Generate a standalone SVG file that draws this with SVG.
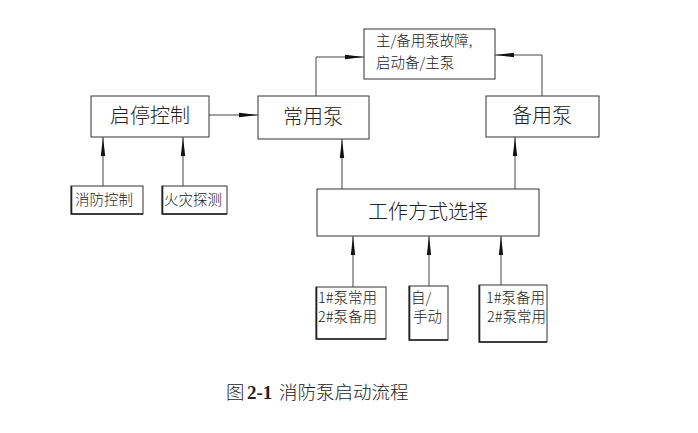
<svg xmlns="http://www.w3.org/2000/svg" width="698" height="433" viewBox="0 0 698 433">
<style>
.box{fill:#fff;stroke:#333;stroke-width:1}
.sh{stroke:#222;stroke-width:1.6;fill:none}
.ln{stroke:#444;stroke-width:1;fill:none}
.t{font-family:"Noto Sans CJK SC","Liberation Sans",sans-serif;fill:#222;font-weight:300}
.big{font-size:20px}
.sm{font-size:14.5px}
</style>
<defs>
<marker id="ah" markerUnits="userSpaceOnUse" viewBox="-19 -3 19 6" refX="0" refY="0" markerWidth="19" markerHeight="6" orient="auto">
<path d="M-19,-2.2 L0,0 L-19,2.2 Z" fill="#111"/>
</marker>
</defs>
<rect width="698" height="433" fill="#fff"/>
<g id="connectors">
<path class="ln" d="M209,115 H258" marker-end="url(#ah)"/>
<path class="ln" d="M316,96 V57 H364" marker-end="url(#ah)"/>
<path class="ln" d="M542,96 V55 H495" marker-end="url(#ah)"/>
<path class="ln" d="M103,186 V137" marker-end="url(#ah)"/>
<path class="ln" d="M183,186 V137" marker-end="url(#ah)"/>
<path class="ln" d="M342,189 V139" marker-end="url(#ah)"/>
<path class="ln" d="M515,189 V137" marker-end="url(#ah)"/>
<path class="ln" d="M353,287 V236" marker-end="url(#ah)"/>
<path class="ln" d="M429,286 V236" marker-end="url(#ah)"/>
<path class="ln" d="M501,285 V236" marker-end="url(#ah)"/>
</g>
<g id="qitingkongzhi">
<rect class="box" x="91" y="96" width="118" height="41"/>
<text class="t big" x="150" y="123" text-anchor="middle">启停控制</text>
</g>
<g id="changyongbeng">
<rect class="box" x="258" y="96" width="111" height="43"/>
<text class="t big" x="313" y="124" text-anchor="middle">常用泵</text>
</g>
<g id="guzhang">
<rect class="box" x="364" y="29" width="131" height="50"/>
<text class="t sm" x="376" y="46">主/备用泵故障,</text>
<text class="t sm" x="376" y="68">启动备/主泵</text>
</g>
<g id="beiyongbeng">
<rect class="box" x="486" y="96" width="113" height="41"/>
<text class="t big" x="542" y="123" text-anchor="middle">备用泵</text>
</g>
<g id="gongzuofangshi">
<rect class="box" x="317" y="189" width="222" height="47"/>
<text class="t big" x="428" y="219" text-anchor="middle">工作方式选择</text>
</g>
<g id="xiaofangkongzhi">
<rect class="box" x="71" y="186" width="72" height="28"/>
<path class="sh" d="M71.5,186 V214 H143"/>
<text class="t sm" x="104" y="205" text-anchor="middle">消防控制</text>
</g>
<g id="huozaitance">
<rect class="box" x="162" y="186" width="65" height="28"/>
<path class="sh" d="M162.5,186 V214 H227"/>
<text class="t sm" x="193" y="205" text-anchor="middle">火灾探测</text>
</g>
<g id="beng1chang">
<rect class="box" x="316" y="287" width="70" height="52"/>
<path class="sh" d="M316.5,287 V339 H386"/>
<text class="t sm" x="318" y="303">1#泵常用</text>
<text class="t sm" x="318" y="322">2#泵备用</text>
</g>
<g id="zishoudong">
<rect class="box" x="409" y="286" width="39" height="54"/>
<path class="sh" d="M409.5,286 V340 H448"/>
<text class="t sm" x="411" y="303">自/</text>
<text class="t sm" x="413" y="322">手动</text>
</g>
<g id="beng1bei">
<rect class="box" x="479" y="285" width="68" height="57"/>
<path class="sh" d="M479.5,285 V342 H547"/>
<text class="t sm" x="486" y="303">1#泵备用</text>
<text class="t sm" x="487" y="322">2#泵常用</text>
</g>
<g id="caption">
<text y="399" style="fill:#222"><tspan x="226" style="font-family:'Noto Sans CJK SC',sans-serif;font-weight:300;font-size:18.5px">图</tspan><tspan x="247" style="font-family:'Liberation Serif',serif;font-weight:bold;font-size:19px">2-1</tspan><tspan x="279" style="font-family:'Noto Sans CJK SC',sans-serif;font-weight:300;font-size:18.5px">消防泵启动流程</tspan></text>
</g>
</svg>
